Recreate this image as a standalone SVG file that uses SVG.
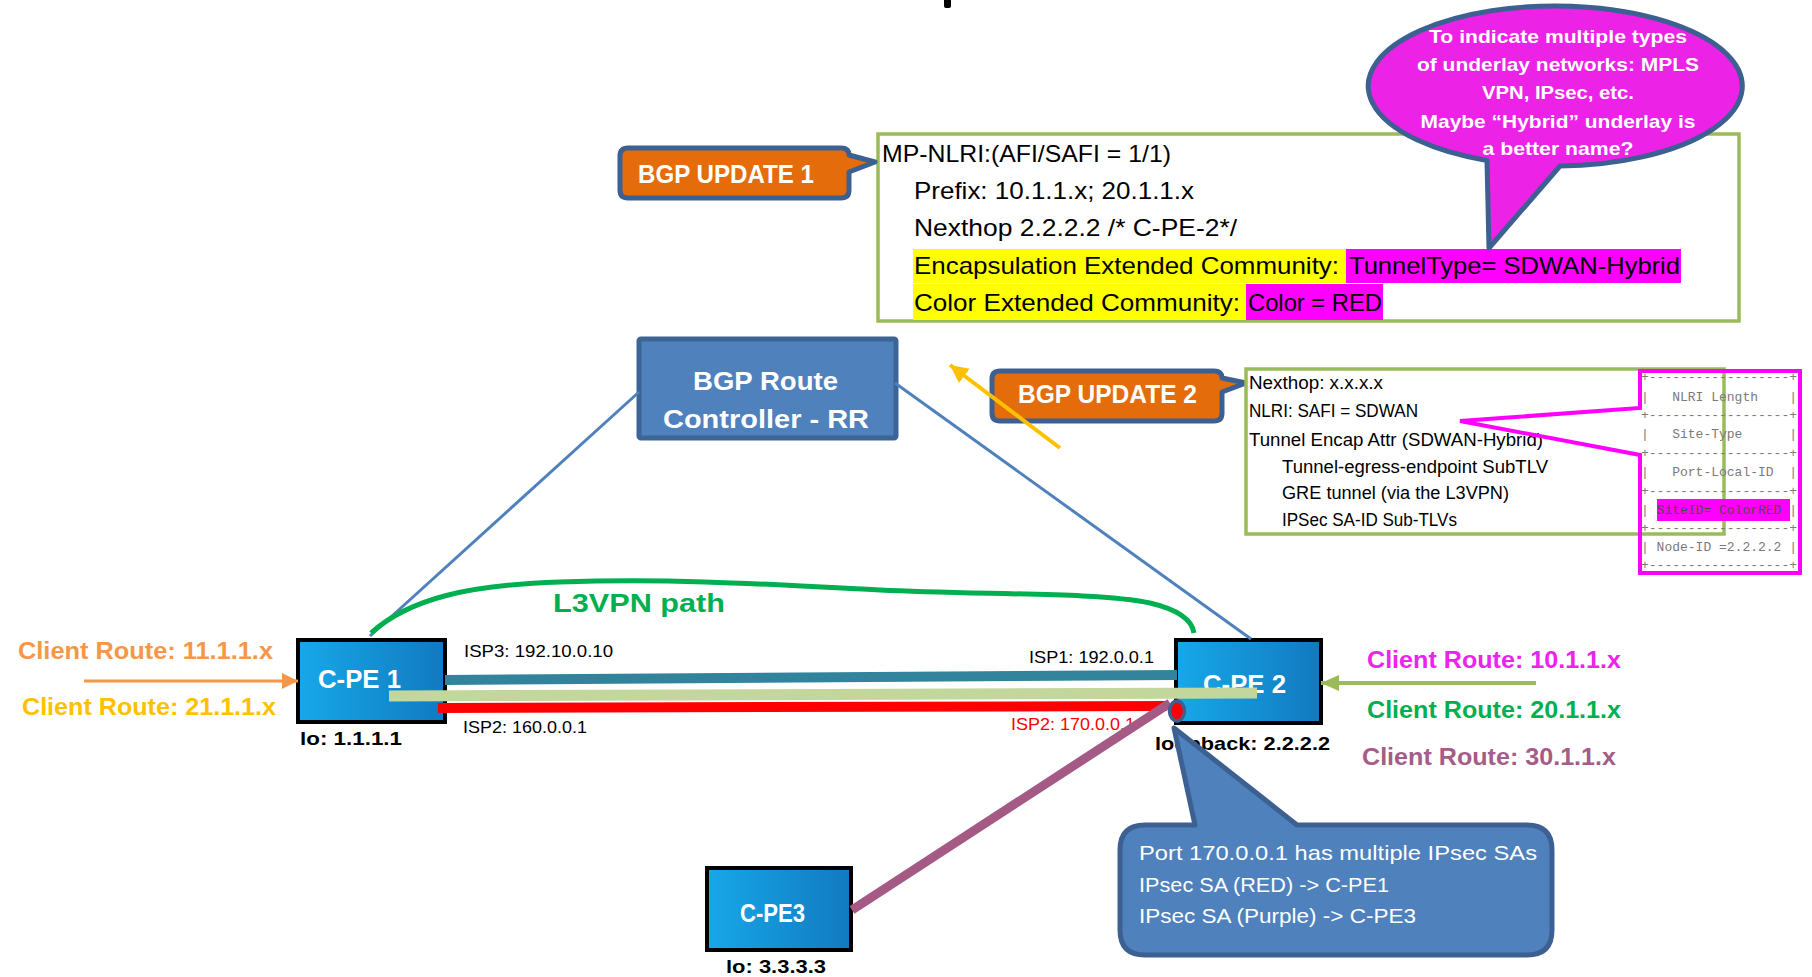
<svg xmlns="http://www.w3.org/2000/svg" width="1812" height="977" viewBox="0 0 1812 977">
<style>
text{font-family:"Liberation Sans",Arial,sans-serif}
.b{font-weight:bold}
.w{fill:#fff}
.k{fill:#000}
.mono text{font-family:"Liberation Mono","Courier New",monospace;font-size:13px;fill:#7a7a7a}
.cpe{stroke:#000;stroke-width:4;fill:url(#cpeGrad)}
.rrl{stroke:#4F81BD;stroke-width:3;fill:none}
.upd{fill:#E46C0A;stroke:#3C6091;stroke-width:5;stroke-linejoin:round}
.gbox{fill:#fff;stroke:#9BBB59;stroke-width:3.5}
</style>
<defs>
<linearGradient id="cpeGrad" x1="0" y1="0" x2="1" y2="0">
<stop offset="0" stop-color="#17A8E9"/>
<stop offset="1" stop-color="#1279C0"/>
</linearGradient>
<marker id="arrOrange" markerUnits="userSpaceOnUse" markerWidth="18" markerHeight="16" refX="16" refY="8" orient="auto"><path d="M0,0 L16,8 L0,16 Z" fill="#F79646"/></marker>
<marker id="arrGreen" markerUnits="userSpaceOnUse" markerWidth="20" markerHeight="16" refX="18" refY="8" orient="auto"><path d="M0,0 L18,8 L0,16 Z" fill="#9BBB59"/></marker>
<marker id="arrYellow" markerUnits="userSpaceOnUse" markerWidth="20" markerHeight="18" refX="18" refY="9" orient="auto"><path d="M0,0 L18,9 L0,18 Z" fill="#FFC000"/></marker>
</defs>
<rect width="1812" height="977" fill="#fff"/>
<rect x="944" y="-3" width="7" height="11" rx="2" fill="#000"/>

<g id="update1-box">
<rect class="gbox" x="878" y="134" width="861" height="187"/>
<rect x="913" y="249" width="433" height="34" fill="#FFFF00"/>
<rect x="1346" y="249" width="335" height="34" fill="#FF00FF"/>
<rect x="913" y="284" width="333" height="36" fill="#FFFF00"/>
<rect x="1246" y="284" width="137" height="36" fill="#FF00FF"/>
<g class="k" font-size="24">
<text x="882" y="162" textLength="289" lengthAdjust="spacingAndGlyphs">MP-NLRI:(AFI/SAFI = 1/1)</text>
<text x="914" y="199" textLength="280" lengthAdjust="spacingAndGlyphs">Prefix: 10.1.1.x; 20.1.1.x</text>
<text x="914" y="236" textLength="323" lengthAdjust="spacingAndGlyphs">Nexthop 2.2.2.2 /* C-PE-2*/</text>
<text x="914" y="274" textLength="425" lengthAdjust="spacingAndGlyphs">Encapsulation Extended Community:</text>
<text x="1349" y="274" textLength="331" lengthAdjust="spacingAndGlyphs">TunnelType= SDWAN-Hybrid</text>
<text x="914" y="311" textLength="326" lengthAdjust="spacingAndGlyphs">Color Extended Community:</text>
<text x="1248" y="311" textLength="134" lengthAdjust="spacingAndGlyphs">Color = RED</text>
</g>
</g>

<g id="bubble">
<path d="M1560,166 A187,80 0 1,0 1487,160.5 L1489,248 Z" fill="#EC22E6" stroke="#3C6091" stroke-width="5" stroke-linejoin="round"/>
<g class="w b" font-size="19" text-anchor="middle">
<text x="1558" y="43" textLength="258" lengthAdjust="spacingAndGlyphs">To indicate multiple types</text>
<text x="1558" y="71" textLength="282" lengthAdjust="spacingAndGlyphs">of underlay networks: MPLS</text>
<text x="1558" y="99" textLength="152" lengthAdjust="spacingAndGlyphs">VPN, IPsec, etc.</text>
<text x="1558" y="128" textLength="275" lengthAdjust="spacingAndGlyphs">Maybe “Hybrid” underlay is</text>
<text x="1558" y="155" textLength="151" lengthAdjust="spacingAndGlyphs">a better name?</text>
</g>
</g>

<g id="update1-label">
<path class="upd" d="M628,148 H841 Q849,148 849,155 L875,162 L849,172 V190 Q849,198 841,198 H628 Q620,198 620,190 V156 Q620,148 628,148 Z"/>
<text class="w b" x="638" y="183" font-size="25" textLength="176" lengthAdjust="spacingAndGlyphs">BGP UPDATE 1</text>
</g>

<g id="rr">
<rect x="639" y="339" width="257" height="99" rx="2" fill="#4F81BD" stroke="#3C6494" stroke-width="5"/>
<text class="w b" x="693" y="390" font-size="25" textLength="145" lengthAdjust="spacingAndGlyphs">BGP Route</text>
<text class="w b" x="663" y="428" font-size="25" textLength="206" lengthAdjust="spacingAndGlyphs">Controller - RR</text>
</g>

<g id="update2-label">
<path class="upd" d="M1000,371 H1214 Q1222,371 1222,378 L1246,383 L1222,392 V413 Q1222,421 1214,421 H1000 Q992,421 992,413 V379 Q992,371 1000,371 Z"/>
<text class="w b" x="1018" y="403" font-size="25" textLength="179" lengthAdjust="spacingAndGlyphs">BGP UPDATE 2</text>
</g>

<g id="update2-box">
<rect class="gbox" x="1246" y="369" width="478" height="165" fill="none"/>
<g class="k" font-size="17.5">
<text x="1249" y="389" textLength="134" lengthAdjust="spacingAndGlyphs">Nexthop: x.x.x.x</text>
<text x="1249" y="417" textLength="169" lengthAdjust="spacingAndGlyphs">NLRI: SAFI = SDWAN</text>
<text x="1249" y="446" textLength="294" lengthAdjust="spacingAndGlyphs">Tunnel Encap Attr (SDWAN-Hybrid)</text>
<text x="1282" y="473" textLength="266" lengthAdjust="spacingAndGlyphs">Tunnel-egress-endpoint SubTLV</text>
<text x="1282" y="499" textLength="227" lengthAdjust="spacingAndGlyphs">GRE tunnel (via the L3VPN)</text>
<text x="1282" y="526" textLength="175" lengthAdjust="spacingAndGlyphs">IPSec SA-ID Sub-TLVs</text>
</g>
</g>

<g id="nlri-table">
<rect x="1657" y="499" width="133" height="22" fill="#FF00FF"/>
<g class="mono">
<text x="1641" y="381">+------------------+</text>
<text x="1641" y="419">+------------------+</text>
<text x="1641" y="457">+------------------+</text>
<text x="1641" y="495">+------------------+</text>
<text x="1641" y="532">+------------------+</text>
<text x="1641" y="569">+------------------+</text>
<text x="1641" y="401">|</text><text x="1672.2" y="401">NLRI Length</text><text x="1789.2" y="401">|</text>
<text x="1641" y="438">|</text><text x="1672.2" y="438">Site-Type</text><text x="1789.2" y="438">|</text>
<text x="1641" y="476">|</text><text x="1672.2" y="476">Port-Local-ID</text><text x="1789.2" y="476">|</text>
<text x="1641" y="514">|</text><text x="1656.6" y="514" style="fill:#4a4a4a">SiteID= ColorRED</text><text x="1789.2" y="514">|</text>
<text x="1641" y="551">|</text><text x="1656.6" y="551">Node-ID =2.2.2.2</text><text x="1789.2" y="551">|</text>
</g>
<path d="M1640,408 V371 H1800 V573 H1640 V455 L1460,421 Z" fill="none" stroke="#FF00FF" stroke-width="4" stroke-linejoin="miter"/>
</g>

<g id="cpe1">
<rect class="cpe" x="298" y="640" width="147" height="82"/>
<text class="w b" x="318" y="688" font-size="25" textLength="83" lengthAdjust="spacingAndGlyphs">C-PE 1</text>
<text class="k b" x="300" y="745" font-size="19" textLength="102" lengthAdjust="spacingAndGlyphs">lo: 1.1.1.1</text>
</g>

<g id="cpe2">
<rect class="cpe" x="1176" y="640" width="145" height="83"/>
<text class="w b" x="1203" y="693" font-size="25" textLength="83" lengthAdjust="spacingAndGlyphs">C-PE 2</text>
<text class="k b" x="1155" y="750" font-size="19" textLength="175" lengthAdjust="spacingAndGlyphs">loopback: 2.2.2.2</text>
</g>

<g id="cpe3">
<rect class="cpe" x="707" y="868" width="144" height="82"/>
<text class="w b" x="740" y="922" font-size="25" textLength="65" lengthAdjust="spacingAndGlyphs">C-PE3</text>
<text class="k b" x="726" y="973" font-size="19" textLength="100" lengthAdjust="spacingAndGlyphs">lo: 3.3.3.3</text>
</g>

<g id="client-routes" class="b" font-size="24">
<text x="18" y="659" fill="#F79646" textLength="255" lengthAdjust="spacingAndGlyphs">Client Route: 11.1.1.x</text>
<text x="22" y="715" fill="#FFC000" textLength="254" lengthAdjust="spacingAndGlyphs">Client Route: 21.1.1.x</text>
<text x="1367" y="668" fill="#EE22EE" textLength="254" lengthAdjust="spacingAndGlyphs">Client Route: 10.1.1.x</text>
<text x="1367" y="718" fill="#00B050" textLength="254" lengthAdjust="spacingAndGlyphs">Client Route: 20.1.1.x</text>
<text x="1362" y="765" fill="#A65C88" textLength="254" lengthAdjust="spacingAndGlyphs">Client Route: 30.1.1.x</text>
</g>

<g id="connectors">
<line class="rrl" x1="639" y1="392" x2="370" y2="636"/>
<line class="rrl" x1="895" y1="383" x2="1251" y2="639"/>
<path d="M371,633 C410,598 470,585 560,582 C680,578 780,585 880,590 C980,595 1100,592 1150,603 C1180,610 1192,620 1194,633" fill="none" stroke="#00B050" stroke-width="5"/>
<text class="b" x="553" y="612" font-size="25" fill="#00B050" textLength="172" lengthAdjust="spacingAndGlyphs">L3VPN path</text>
<line x1="445" y1="680" x2="1177" y2="675" stroke="#31849B" stroke-width="10"/>
<line x1="438" y1="708" x2="1167" y2="706" stroke="#FF0000" stroke-width="10"/>
<line x1="389" y1="696" x2="1257" y2="693" stroke="#C3D69B" stroke-width="11"/>
<g class="k" font-size="17">
<text x="464" y="657" textLength="149" lengthAdjust="spacingAndGlyphs">ISP3: 192.10.0.10</text>
<text x="1029" y="663" textLength="125" lengthAdjust="spacingAndGlyphs">ISP1: 192.0.0.1</text>
<text x="463" y="733" textLength="124" lengthAdjust="spacingAndGlyphs">ISP2: 160.0.0.1</text>
</g>
<text x="1011" y="730" font-size="17" fill="#FF0000" textLength="124" lengthAdjust="spacingAndGlyphs">ISP2: 170.0.0.1</text>
<line x1="852" y1="910" x2="1170" y2="703" stroke="#A55A85" stroke-width="9"/>
<ellipse cx="1177" cy="711" rx="7.5" ry="10" fill="#FF0000" stroke="#3C6091" stroke-width="3.5"/>
<line x1="84" y1="681" x2="298" y2="681" stroke="#F79646" stroke-width="3" marker-end="url(#arrOrange)"/>
<line x1="1536" y1="683" x2="1321" y2="683" stroke="#9BBB59" stroke-width="4" marker-end="url(#arrGreen)"/>
<line x1="1060" y1="448" x2="950" y2="365" stroke="#FFC000" stroke-width="4" marker-end="url(#arrYellow)"/>
</g>

<g id="ipsec-callout">
<path d="M1145,825 H1195 L1174,728 L1297,825 H1527 Q1552,825 1552,850 V930 Q1552,955 1527,955 H1145 Q1120,955 1120,930 V850 Q1120,825 1145,825 Z" fill="#4F81BD" stroke="#3C6091" stroke-width="5" stroke-linejoin="round"/>
<g class="w" font-size="21">
<text x="1139" y="860" textLength="398" lengthAdjust="spacingAndGlyphs">Port 170.0.0.1 has multiple IPsec SAs</text>
<text x="1139" y="892" textLength="250" lengthAdjust="spacingAndGlyphs">IPsec SA (RED) -&gt; C-PE1</text>
<text x="1139" y="923" textLength="277" lengthAdjust="spacingAndGlyphs">IPsec SA (Purple) -&gt; C-PE3</text>
</g>
</g>
</svg>
